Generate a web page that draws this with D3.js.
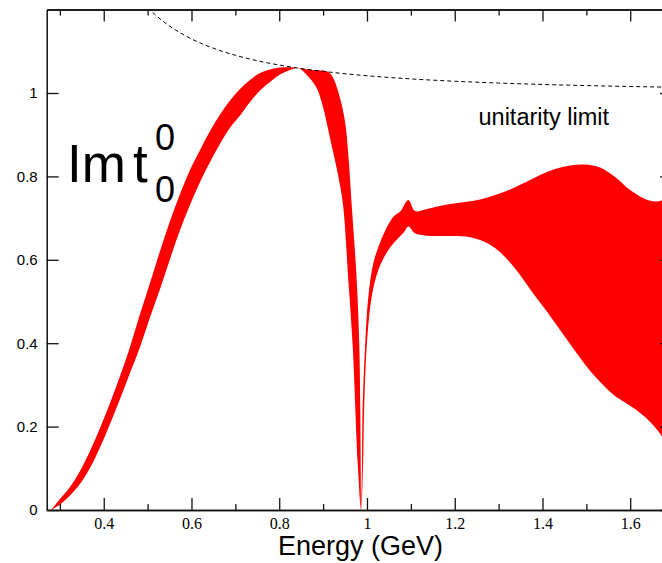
<!DOCTYPE html>
<html><head><meta charset="utf-8">
<script src="https://cdn.jsdelivr.net/npm/d3@7"></script>
<style>body{margin:0;background:#fff;} svg{display:block;}</style>
</head><body>
<svg id="chart" width="662" height="563"></svg>
<script>
// ---- data ----
const upperEnergy = [0.2798,0.3003,0.3231,0.3459,0.3687,0.3915,0.4143,0.4371,0.4599,0.4827,0.5055,0.5283,0.5511,0.5739,0.5967,0.6195,0.6423,0.6651,0.6878,0.7106,0.7334,0.7562,0.7790,0.8018,0.8246,0.8428,
  0.8750,0.9119,0.9233,0.9386,0.9500,0.9575,0.9652,0.9766,0.9826,0.9848,0.9857,0.9865,
  0.9887,0.9898,0.9956,1.0031,1.0145,1.0336,1.0601,1.0753,1.0943,
  1.1095,1.1323,1.1551,1.1893,1.2235,1.2577,1.2919,1.3261,1.3603,1.3945,1.4287,1.4628,1.4970,1.5312,1.5654,1.5996,1.6338,1.6566,1.6726,1.7000];
const upperValue  = [0,0.0264,0.0552,0.0935,0.1415,0.1966,0.2566,0.3213,0.3909,0.4700,0.5444,0.6211,0.6930,0.7578,0.8153,0.8633,0.9089,0.9484,0.9820,1.0096,1.0312,1.0480,1.0564,1.0612,1.0615,1.0597,
  1.0551,1.0505,1.0353,0.9873,0.9312,0.8513,0.7314,0.5516,0.3916,0.2319,0.1120,0,
  0.1120,0.2319,0.3916,0.5115,0.5916,0.6516,0.7034,0.7153,0.7434,
  0.7170,0.7206,0.7266,0.7338,0.7386,0.7446,0.7554,0.7686,0.7854,0.8034,0.8177,0.8261,0.8285,0.8213,0.7986,0.7674,0.7458,0.7398,0.7422,0.7506];

const lowerEnergy = [0.2798,0.3003,0.3231,0.3459,0.3687,0.3915,0.4143,0.4371,0.4599,0.4827,0.5055,0.5283,0.5511,0.5739,0.5967,0.6195,0.6423,0.6651,0.6878,0.7106,0.7334,0.7562,0.7790,0.8018,0.8246,0.8428,
  0.8627,0.8855,0.9005,0.9158,0.9340,0.9454,0.9575,0.9675,0.9789,0.9865,
  0.9912,0.9933,0.9994,1.0108,1.0259,1.0487,1.0715,1.0845,1.0943,
  1.1095,1.1323,1.1551,1.1893,1.2235,1.2463,1.2691,1.2919,1.3147,1.3375,1.3603,1.3831,1.4059,1.4287,1.4515,1.4743,1.4970,1.5198,1.5426,1.5654,1.5882,1.6110,1.6338,1.6498,1.6634,1.6726,1.7000];
const lowerValue  = [0,0.0132,0.0350,0.0624,0.1007,0.1499,0.2062,0.2662,0.3285,0.3909,0.4621,0.5300,0.6019,0.6715,0.7319,0.7866,0.8345,0.8784,0.9168,0.9460,0.9784,1.0060,1.0264,1.0444,1.0552,1.0597,
  1.0432,1.0113,0.9633,0.8914,0.8034,0.7314,0.5516,0.3916,0.1120,0,
  0.1120,0.2319,0.3916,0.5115,0.5755,0.6235,0.6520,0.6667,0.6799,
  0.6635,0.6583,0.6571,0.6571,0.6559,0.6511,0.6427,0.6283,0.6067,0.5791,0.5468,0.5132,0.4820,0.4484,0.4149,0.3813,0.3489,0.3201,0.2950,0.2734,0.2578,0.2422,0.2230,0.2062,0.1894,0.1758,0.1319];

const unitarityEnergy = [0.50,0.52,0.55,0.575,0.60,0.625,0.65,0.70,0.75,0.80,0.85,0.90,1.00,1.10,1.20,1.30,1.40,1.50,1.60,1.70];
const unitarityValue  = [1.2053,1.1852,1.1606,1.1438,1.1297,1.1177,1.1073,1.0905,1.0774,1.0671,1.0587,1.0519,1.0414,1.0338,1.0282,1.0239,1.0205,1.0178,1.0156,1.0138];

const xMajorTicks = [0.4,0.6,0.8,1.0,1.2,1.4,1.6];
const xMinorTicks = [0.3,0.5,0.7,0.9,1.1,1.3,1.5,1.7];
const yMajorTicks = [0,0.2,0.4,0.6,0.8,1.0];

// ---- drawing ----
const svg = d3.select('#chart');
const x = d3.scaleLinear().domain([0.27,1.7]).range([46.7,674.1]);
const y = d3.scaleLinear().domain([0,1.2]).range([510,9.6]);

svg.append('defs').append('clipPath').attr('id','plotclip')
  .append('rect').attr('x',x(0.27)).attr('y',y(1.2)).attr('width',x(1.7)-x(0.27)).attr('height',y(0)-y(1.2));

const plot = svg.append('g').attr('clip-path','url(#plotclip)');

const upperPts = upperEnergy.map((e,i)=>[x(e),y(upperValue[i])]);
const lowerPts = lowerEnergy.map((e,i)=>[x(e),y(lowerValue[i])]).reverse();
const edge = d3.line().curve(d3.curveCatmullRom.alpha(0.5));
const bandPath = edge(upperPts) + edge(lowerPts).replace(/^M/,'L') + 'Z';
plot.append('path').attr('d',bandPath).attr('fill','#ff0000').attr('stroke','none');

const uLine = d3.line().x((e)=>x(e)).y((e,i)=>y(unitarityValue[i])).curve(d3.curveMonotoneX);
plot.append('path').attr('d',uLine(unitarityEnergy)).attr('fill','none')
  .attr('stroke','#000').attr('stroke-width',1).attr('stroke-dasharray','4,3');

// axes
const axisColor = '#111';
function styleAxis(g){
  g.selectAll('path.domain').attr('stroke',axisColor).attr('stroke-width',1.5);
  g.selectAll('.tick line').attr('stroke',axisColor).attr('stroke-width',1.3);
}
const gB = svg.append('g').attr('transform',`translate(0,${y(0)})`)
  .call(d3.axisBottom(x).tickValues(xMajorTicks).tickSize(-12).tickSizeOuter(0).tickPadding(8).tickFormat(d=>String(d)));
styleAxis(gB);
gB.selectAll('.tick text').attr('font-family','"Liberation Serif", "Times New Roman", serif').attr('font-size',16).attr('fill','#000').attr('y',8).attr('dy','0.71em');
const gBm = svg.append('g').attr('transform',`translate(0,${y(0)})`)
  .call(d3.axisBottom(x).tickValues(xMinorTicks).tickSize(-6).tickSizeOuter(0).tickFormat(''));
styleAxis(gBm);
const gT = svg.append('g').attr('transform',`translate(0,${y(1.2)})`)
  .call(d3.axisTop(x).tickValues(xMajorTicks).tickSize(-12).tickSizeOuter(0).tickFormat(''));
styleAxis(gT);
const gTm = svg.append('g').attr('transform',`translate(0,${y(1.2)})`)
  .call(d3.axisTop(x).tickValues(xMinorTicks).tickSize(-6).tickSizeOuter(0).tickFormat(''));
styleAxis(gTm);
const gL = svg.append('g').attr('transform',`translate(${x(0.27)},0)`)
  .call(d3.axisLeft(y).tickValues(yMajorTicks).tickSize(-12).tickSizeOuter(0).tickPadding(9).tickFormat(d=>String(d)));
styleAxis(gL);
gL.selectAll('.tick text').attr('font-family','"Liberation Sans", Arial, sans-serif').attr('font-size',15).attr('fill','#000');
const gR = svg.append('g').attr('transform',`translate(${x(1.7)},0)`)
  .call(d3.axisRight(y).tickValues(yMajorTicks).tickSize(-14).tickSizeOuter(0).tickFormat(''));
styleAxis(gR);

// texts
const sans = '"Liberation Sans", Arial, sans-serif';
svg.append('text').attr('x',360.5).attr('y',555).attr('text-anchor','middle')
  .attr('font-family',sans).attr('font-size',27).text('Energy (GeV)');
svg.append('text').attr('x',478.5).attr('y',125)
  .attr('font-family',sans).attr('font-size',23.5).text('unitarity limit');
svg.append('text').attr('x',67).attr('y',181.7).attr('font-family',sans).attr('font-size',53).text('Im');
svg.append('text').attr('x',133).attr('y',181.7).attr('font-family',sans).attr('font-size',53).text('t');
svg.append('text').attr('x',155).attr('y',150).attr('font-family',sans).attr('font-size',36).text('0');
svg.append('text').attr('x',155).attr('y',201.7).attr('font-family',sans).attr('font-size',36).text('0');
</script>
</body></html>
